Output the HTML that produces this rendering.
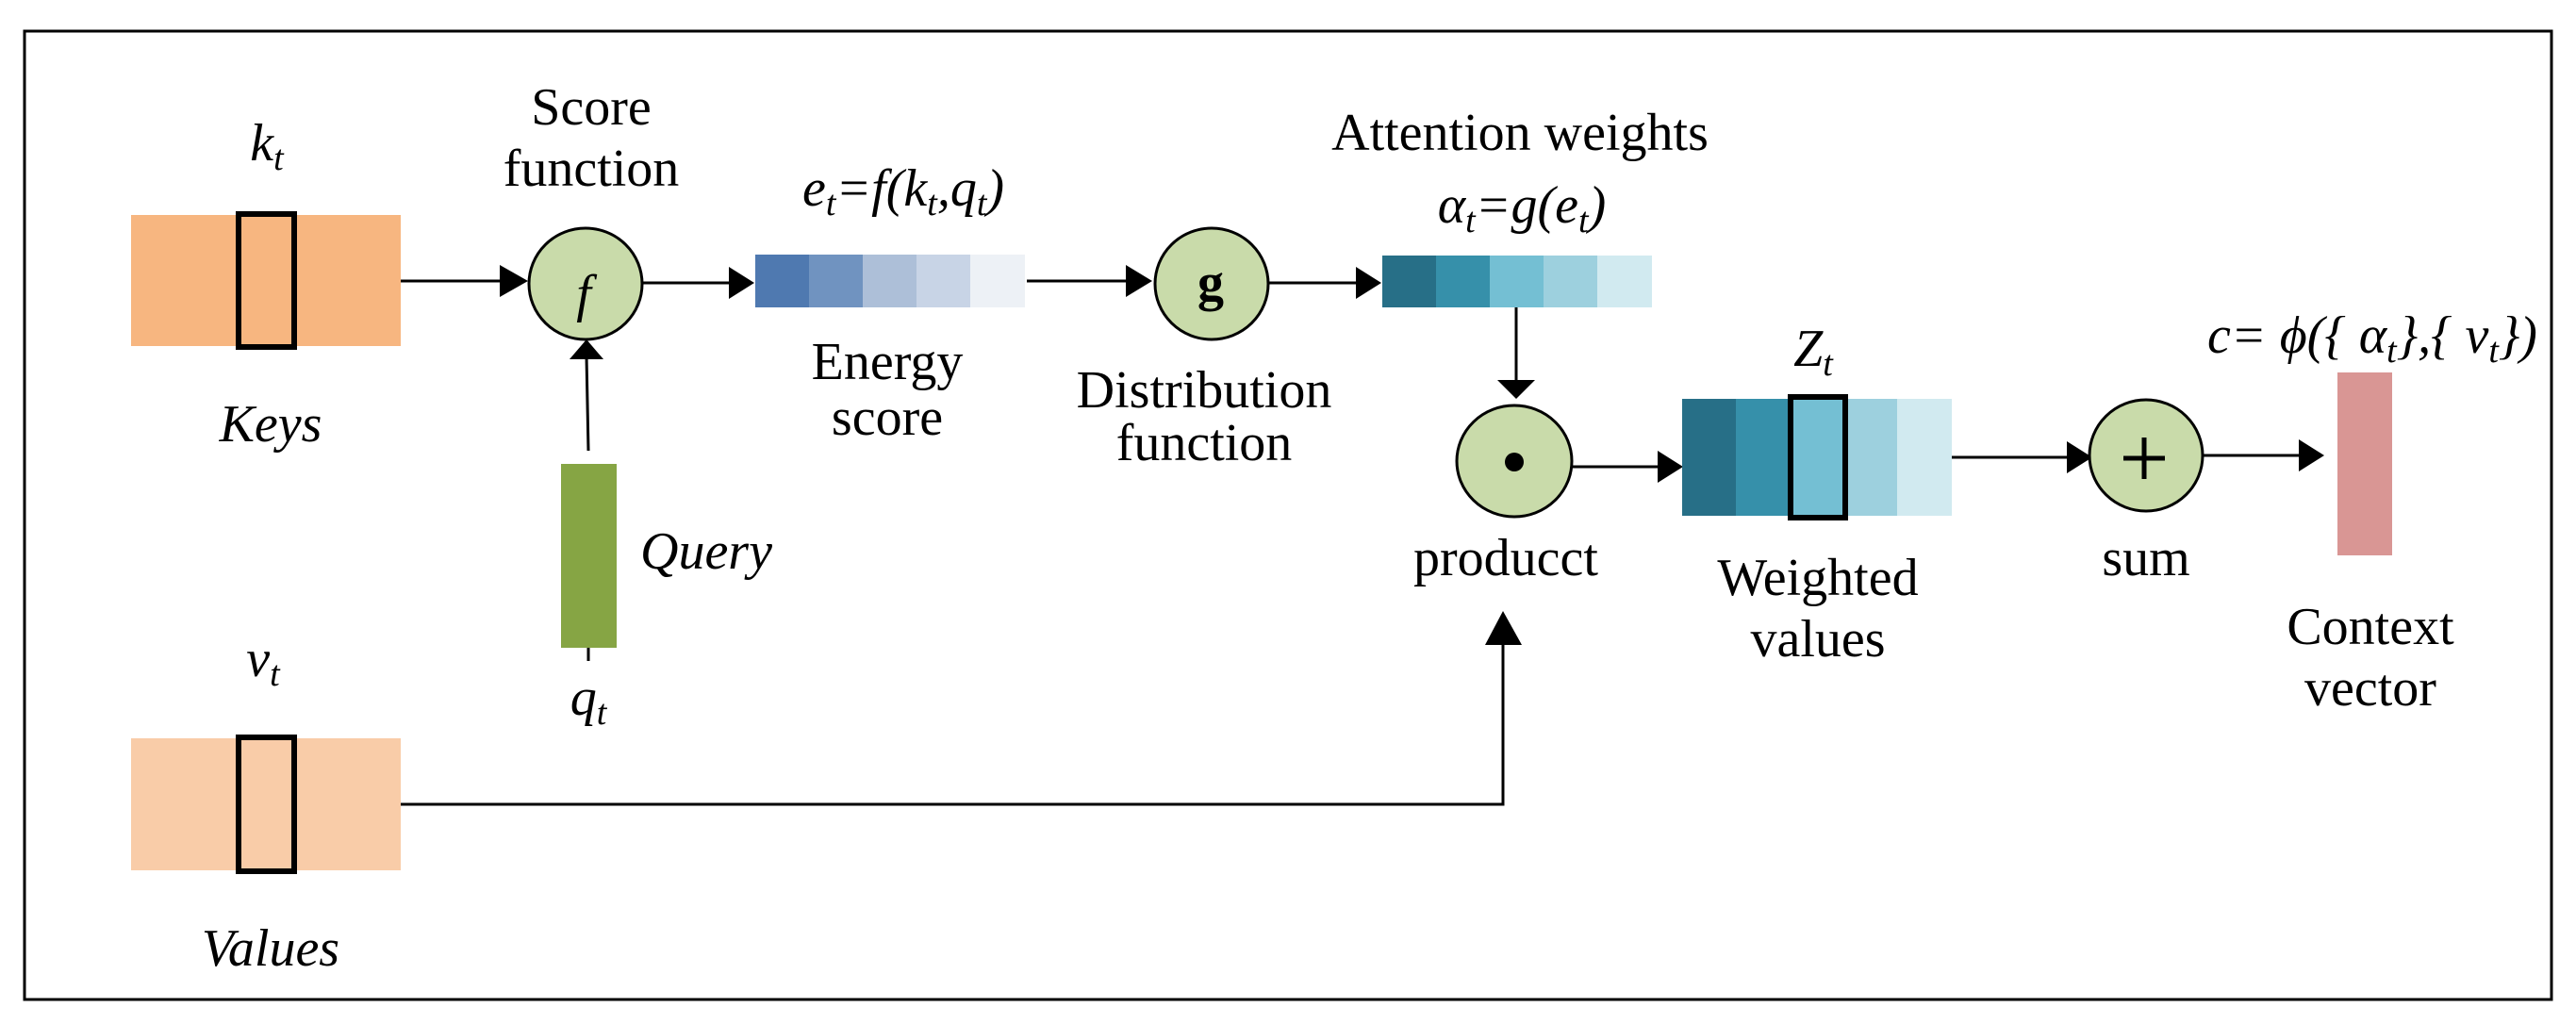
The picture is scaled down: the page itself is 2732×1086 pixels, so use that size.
<!DOCTYPE html>
<html><head><meta charset="utf-8"><style>
html,body{margin:0;padding:0;background:#fff;}
svg{display:block;}
text{font-family:"Liberation Serif",serif;font-size:56px;fill:#000;}
.i{font-style:italic;}
</style></head><body>
<svg width="2732" height="1086" viewBox="0 0 2732 1086" xmlns="http://www.w3.org/2000/svg">
<rect x="26" y="33" width="2680" height="1027" fill="none" stroke="#000" stroke-width="3"/>

<!-- Keys -->
<rect x="139" y="228" width="286" height="139" fill="#f7b680"/>
<rect x="253" y="227" width="59" height="141" fill="none" stroke="#000" stroke-width="6"/>
<text x="283" y="170" class="i" text-anchor="middle">k<tspan font-size="38" dy="10">t</tspan></text>
<text x="287" y="468" class="i" text-anchor="middle">Keys</text>

<!-- Values -->
<rect x="139" y="783" width="286" height="140" fill="#f9cca8"/>
<rect x="253" y="782" width="59" height="142" fill="none" stroke="#000" stroke-width="6"/>
<text x="279" y="717" class="i" text-anchor="middle">v<tspan font-size="38" dy="10">t</tspan></text>
<text x="287" y="1024" class="i" text-anchor="middle">Values</text>

<!-- keys->f -->
<line x1="425" y1="298" x2="530" y2="298" stroke="#000" stroke-width="3"/>
<path d="M530,281 L560,298 L530,315 Z"/>
<!-- f circle -->
<ellipse cx="621" cy="301" rx="60" ry="59" fill="#c9dbaa" stroke="#000" stroke-width="3"/>
<text x="619" y="330" class="i" text-anchor="middle" font-size="90">f</text>
<text x="627" y="132" text-anchor="middle">Score</text>
<text x="627" y="197" text-anchor="middle">function</text>

<!-- query -->
<rect x="595" y="492" width="59" height="195" fill="#86a544"/>
<line x1="624" y1="478" x2="622" y2="378" stroke="#000" stroke-width="3"/>
<path d="M604,381 L622,360 L640,381 Z"/>
<line x1="624" y1="687" x2="624" y2="701" stroke="#000" stroke-width="3"/>
<text x="679" y="603" class="i">Query</text>
<text x="624" y="758" class="i" text-anchor="middle">q<tspan font-size="38" dy="10">t</tspan></text>

<!-- f->energy -->
<line x1="682" y1="300" x2="773" y2="300" stroke="#000" stroke-width="3"/>
<path d="M773,283 L800,300 L773,317 Z"/>
<rect x="801" y="270" width="58" height="56" fill="#4f79b0"/>
<rect x="858" y="270" width="58" height="56" fill="#7093c0"/>
<rect x="915" y="270" width="58" height="56" fill="#adbfd8"/>
<rect x="972" y="270" width="58" height="56" fill="#c8d4e6"/>
<rect x="1029" y="270" width="58" height="56" fill="#edf1f6"/>
<text x="958" y="218" class="i" text-anchor="middle">e<tspan font-size="38" dy="10">t</tspan><tspan dy="-10">=f(k</tspan><tspan font-size="38" dy="10">t</tspan><tspan dy="-10">,q</tspan><tspan font-size="38" dy="10">t</tspan><tspan dy="-10">)</tspan></text>
<text x="941" y="402" text-anchor="middle">Energy</text>
<text x="941" y="461" text-anchor="middle">score</text>

<!-- energy->g -->
<line x1="1089" y1="298" x2="1194" y2="298" stroke="#000" stroke-width="3"/>
<path d="M1194,281 L1222,298 L1194,315 Z"/>
<ellipse cx="1285" cy="301" rx="60" ry="59" fill="#c9dbaa" stroke="#000" stroke-width="3"/>
<text x="1284" y="318" text-anchor="middle" font-size="84" font-weight="bold">g</text>
<text x="1277" y="432" text-anchor="middle">Distribution</text>
<text x="1277" y="488" text-anchor="middle">function</text>

<!-- g->attention -->
<line x1="1345" y1="300" x2="1438" y2="300" stroke="#000" stroke-width="3"/>
<path d="M1438,283 L1465,300 L1438,317 Z"/>
<rect x="1466" y="271" width="58" height="55" fill="#276f87"/>
<rect x="1523" y="271" width="58" height="55" fill="#3690aa"/>
<rect x="1580" y="271" width="58" height="55" fill="#74bfd3"/>
<rect x="1637" y="271" width="58" height="55" fill="#9dd0de"/>
<rect x="1694" y="271" width="58" height="55" fill="#d1eaf0"/>
<text x="1612" y="159" text-anchor="middle">Attention weights</text>
<text x="1614" y="236" class="i" text-anchor="middle">α<tspan font-size="38" dy="10">t</tspan><tspan dy="-10">=g(e</tspan><tspan font-size="38" dy="10">t</tspan><tspan dy="-10">)</tspan></text>

<!-- attention->product -->
<line x1="1608" y1="326" x2="1608" y2="405" stroke="#000" stroke-width="3"/>
<path d="M1588,403 L1608,423 L1628,403 Z"/>
<ellipse cx="1606" cy="489" rx="61" ry="59" fill="#c9dbaa" stroke="#000" stroke-width="3"/>
<circle cx="1606" cy="490" r="10" fill="#000"/>
<text x="1597" y="610" text-anchor="middle">producct</text>

<!-- values->product -->
<polyline points="425,853 1594,853 1594,682" fill="none" stroke="#000" stroke-width="3"/>
<path d="M1575,684 L1594,648 L1614,684 Z"/>

<!-- product->weighted -->
<line x1="1667" y1="495" x2="1758" y2="495" stroke="#000" stroke-width="3"/>
<path d="M1758,478 L1785,495 L1758,512 Z"/>
<rect x="1784" y="423" width="58" height="124" fill="#276f87"/>
<rect x="1841" y="423" width="58" height="124" fill="#3690aa"/>
<rect x="1898" y="423" width="58" height="124" fill="#74bfd3"/>
<rect x="1955" y="423" width="58" height="124" fill="#9dd0de"/>
<rect x="2012" y="423" width="58" height="124" fill="#d1eaf0"/>
<rect x="1899" y="421" width="58" height="128" fill="none" stroke="#000" stroke-width="6"/>
<text x="1923" y="388" class="i" text-anchor="middle">Z<tspan font-size="38" dy="10">t</tspan></text>
<text x="1928" y="631" text-anchor="middle">Weighted</text>
<text x="1928" y="696" text-anchor="middle">values</text>

<!-- weighted->sum -->
<line x1="2070" y1="485" x2="2192" y2="485" stroke="#000" stroke-width="3"/>
<path d="M2192,468 L2219,485 L2192,502 Z"/>
<ellipse cx="2276" cy="483" rx="60" ry="59" fill="#c9dbaa" stroke="#000" stroke-width="3"/>
<path d="M2252,486 L2296,486 M2274,464 L2274,508" stroke="#000" stroke-width="5"/>
<text x="2276" y="610" text-anchor="middle">sum</text>

<!-- sum->context -->
<line x1="2336" y1="483" x2="2438" y2="483" stroke="#000" stroke-width="3"/>
<path d="M2438,466 L2465,483 L2438,500 Z"/>
<rect x="2479" y="395" width="58" height="194" fill="#d99694"/>
<text x="2516" y="374" class="i" text-anchor="middle">c= ϕ({ α<tspan font-size="38" dy="10">t</tspan><tspan dy="-10">},{ v</tspan><tspan font-size="38" dy="10">t</tspan><tspan dy="-10">})</tspan></text>
<text x="2514" y="683" text-anchor="middle">Context</text>
<text x="2514" y="748" text-anchor="middle">vector</text>
</svg>
</body></html>
